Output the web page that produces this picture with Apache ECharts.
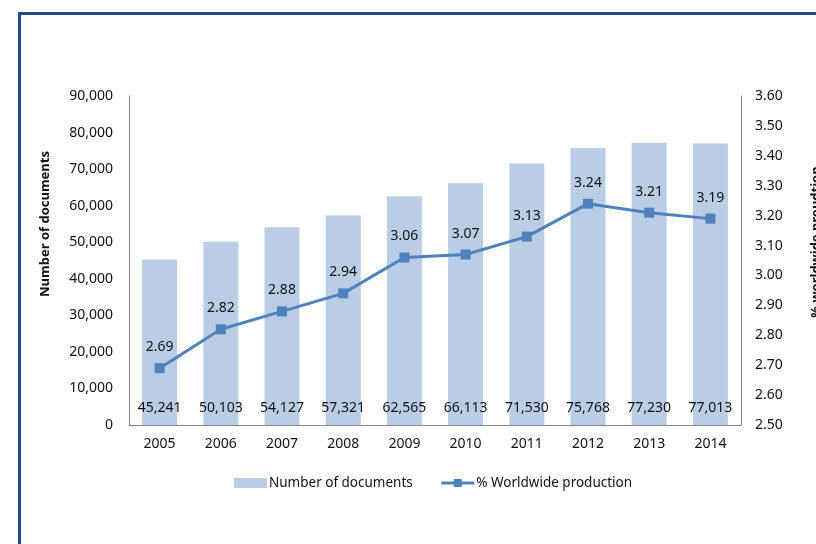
<!DOCTYPE html>
<html>
<head>
<meta charset="utf-8">
<script src="https://cdn.jsdelivr.net/npm/echarts@6/dist/echarts.min.js"></script>
<style>
html,body{margin:0;padding:0;background:#fff;}
#chart{width:816px;height:544px;}
</style>
</head>
<body>
<div id="chart"></div>
<script>
var categories = ['2005','2006','2007','2008','2009','2010','2011','2012','2013','2014'];
var documents = [45241, 50103, 54127, 57321, 62565, 66113, 71530, 75768, 77230, 77013];
var worldwideShare = [2.69, 2.82, 2.88, 2.94, 3.06, 3.07, 3.13, 3.24, 3.21, 3.19];
var leftTitle = 'Number of documents';
var rightTitle = '% worldwide proudtion';
var seriesNames = ['Number of documents', '% Worldwide production'];

var FONT = '"Noto Sans", sans-serif';
var TXT = '#111';
var chart = echarts.init(document.getElementById('chart'));
chart.setOption({
  animation: false,
  textStyle: { fontFamily: FONT },
  grid: { left: 129, right: 75, top: 96, bottom: 119 },
  legend: {
    top: 471,
    left: 229,
    itemWidth: 33,
    itemHeight: 10,
    itemGap: 27,
    textStyle: { fontFamily: FONT, fontSize: 13.5, color: TXT, padding: [0,0,0,-3] },
    data: [
      { name: seriesNames[0], icon: 'rect' },
      { name: seriesNames[1], lineStyle: { width: 3, color: '#4F81BD' } }
    ]
  },
  xAxis: {
    type: 'category',
    data: categories,
    axisLine: { lineStyle: { color: '#868686', width: 1 } },
    axisTick: { show: false },
    axisLabel: { color: TXT, fontSize: 14, margin: 12, fontFamily: FONT }
  },
  yAxis: [
    {
      type: 'value', min: 0, max: 90000, interval: 10000,
      axisLine: { show: true, lineStyle: { color: '#868686' } },
      axisTick: { show: false },
      splitLine: { show: false },
      axisLabel: { color: TXT, fontSize: 14, margin: 16, fontFamily: FONT,
        formatter: function (v) { return v.toLocaleString('en-US'); } }
    },
    {
      type: 'value', min: 2.5, max: 3.6, interval: 0.1,
      axisLine: { show: true, lineStyle: { color: '#868686' } },
      axisTick: { show: false },
      splitLine: { show: false },
      axisLabel: { color: TXT, fontSize: 14, margin: 14, fontFamily: FONT,
        formatter: function (v) { return v.toFixed(2); } }
    }
  ],
  series: [
    {
      name: seriesNames[0],
      type: 'bar',
      data: documents,
      barWidth: 35,
      itemStyle: { color: '#B9CDE5' },
      label: {
        show: true, position: 'insideBottom', distance: 10,
        color: TXT, fontSize: 14, fontFamily: FONT,
        formatter: function (p) { return p.value.toLocaleString('en-US'); }
      }
    },
    {
      name: seriesNames[1],
      type: 'line',
      yAxisIndex: 1,
      data: worldwideShare,
      symbol: 'rect',
      symbolSize: 10,
      lineStyle: { color: '#4F81BD', width: 3 },
      itemStyle: { color: '#4F81BD' },
      label: {
        show: true, position: 'top', distance: 9,
        color: TXT, fontSize: 14, fontFamily: FONT,
        formatter: function (p) { return p.value.toFixed(2); }
      }
    }
  ],
  graphic: [
    {
      type: 'rect', z: 100,
      shape: { x: 19.5, y: 13.5, width: 900, height: 700 },
      style: { fill: 'none', stroke: '#1D4A8C', lineWidth: 3 }
    },
    {
      type: 'text', x: 45, y: 224, rotation: Math.PI / 2,
      style: { text: leftTitle, font: 'bold 13px ' + FONT, fill: TXT,
        align: 'center', verticalAlign: 'middle' }
    },
    {
      type: 'text', x: 816, y: 242, rotation: Math.PI / 2,
      style: { text: rightTitle, font: 'bold 13px ' + FONT, fill: TXT,
        align: 'center', verticalAlign: 'middle' }
    }
  ]
});
</script>
</body>
</html>
